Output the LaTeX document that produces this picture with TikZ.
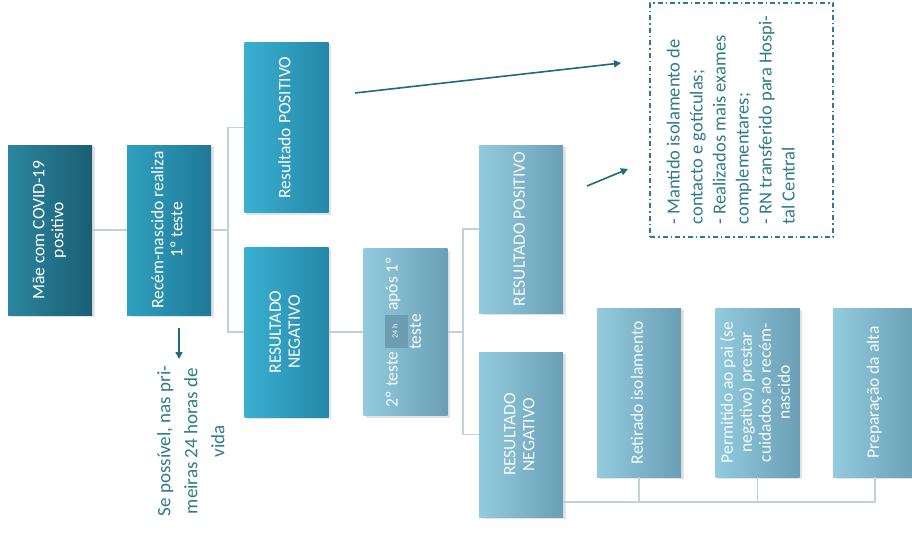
\documentclass[tikz,border=0pt]{standalone}
\usepackage{graphicx}
\usepackage{fontspec}
\setmainfont{Carlito}
\usetikzlibrary{arrows.meta, shadows}

\definecolor{maeL}{HTML}{2A86A0}
\definecolor{maeR}{HTML}{1B5E73}
\definecolor{rnL}{HTML}{2FA0BF}
\definecolor{rnR}{HTML}{1F7896}
\definecolor{resL}{HTML}{3AB0D1}
\definecolor{resR}{HTML}{2587A9}
\definecolor{paleL}{HTML}{93CBDE}
\definecolor{paleR}{HTML}{6A9FB5}
\definecolor{hourcol}{HTML}{6E9DB1}
\definecolor{linecol}{HTML}{BFD2D9}
\definecolor{arrcol}{HTML}{1E6B7C}
\definecolor{notecol}{HTML}{2F7B8C}

% rotated text, read from bottom to top
\newcommand{\vlines}[1]{\rotatebox{90}{\begin{tabular}{@{}c@{}}#1\end{tabular}}}
\newcommand{\vleft}[1]{\rotatebox{90}{\begin{tabular}{@{}l@{}}#1\end{tabular}}}

\begin{document}
\begin{tikzpicture}[x=1pt, y=-1pt,
    flowbox/.style={minimum width=84pt, minimum height=170pt, inner sep=0pt,
      text=white, font=\fontsize{17.5}{19}\selectfont,
      drop shadow={shadow xshift=2.5pt, shadow yshift=-2pt, opacity=0.22}},
    darkbox/.style={flowbox, left color=maeL, right color=maeR},
    rnbox/.style={flowbox, left color=rnL, right color=rnR},
    resbox/.style={flowbox, left color=resL, right color=resR},
    palebox/.style={flowbox, left color=paleL, right color=paleR, text=white!92!paleL},
    conn/.style={draw=linecol, line width=1.2pt},
    arr/.style={draw=arrcol, line width=1.6pt, -{Triangle[length=7pt, width=7pt]}},
  ]
    \useasboundingbox (0,0) rectangle (912,535);
    \fill[white] (0,0) rectangle (912,535);

    % First column: mother and first test
    \node[darkbox] (mae) at (50,230) {\vlines{Mãe com COVID-19\\ positivo}};
    \node[rnbox] (rn) at (169,230) {\vlines{Recém-nascido realiza\\ 1º teste}};

    % Results of the first test
    \node[resbox] (pos1) at (286.5,127.5) {\vlines{Resultado POSITIVO}};
    \node[resbox] (neg1) at (286.5,332) {\vlines{RESULTADO\\ NEGATIVO}};

    % Second test
    \node[palebox, minimum height=167pt] (teste2) at (405.5,332)
      {\vlines{2º teste {\fboxsep=0pt\colorbox{hourcol}{\makebox[33pt]{\rule[-10pt]{0pt}{23pt}\fontsize{8}{9}\selectfont 24 h}}} após 1º\\ teste}};
    \node[palebox, minimum height=168pt] (pos2) at (521,229) {\vlines{RESULTADO POSITIVO}};
    \node[palebox, minimum height=165pt] (neg2) at (521,434.5) {\vlines{RESULTADO\\ NEGATIVO}};

    % Steps after a negative second test
    \node[palebox, minimum height=169pt] (ret) at (639,392.5) {\vlines{Retirado isolamento}};
    \node[palebox, minimum height=169pt] (perm) at (757.5,392.5)
      {\vlines{Permitido ao pai (se\\ negativo) prestar\\ cuidados ao recém-\\ nascido}};
    \node[palebox, minimum height=169pt] (prep) at (875,392.5) {\vlines{Preparação da alta}};

    % Notes
    \node[text=notecol, font=\fontsize{19}{27}\selectfont] (hint) at (192,441)
      {\vlines{Se possível, nas pri-\\ meiras 24 horas de\\ vida}};
    \node[draw=notecol, line width=1.1pt, dash pattern=on 5pt off 3pt on 1.5pt off 3pt,
      minimum width=183pt, minimum height=234pt, inner sep=0pt, text=notecol,
      font=\fontsize{18.5}{23}\selectfont] (medidas) at (741.5,120)
      {\vleft{- Mantido isolamento de\\ contacto e gotículas;\\ - Realizados mais exames\\ complementares;\\ - RN transferido para Hospi-\\ tal Central}\hspace*{18pt}};

    % Connectors
    \coordinate (split1) at (228,230);
    \coordinate (split2) at (463,332);
    \coordinate (bus) at (0,502);
    \draw[conn] (mae.east) -- (rn.west);
    \draw[conn] (rn.east) -- (split1) |- (pos1.west);
    \draw[conn] (split1) |- (neg1.west);
    \draw[conn] (neg1.east) -- (teste2.west);
    \draw[conn] (teste2.east) -- (split2) |- (pos2.west);
    \draw[conn] (split2) |- (neg2.west);
    \draw[conn] (neg2.east |- bus) -| (prep.south);
    \draw[conn] (ret.south) -- (ret.south |- bus);
    \draw[conn] (perm.south) -- (perm.south |- bus);

    % Arrows
    \coordinate (a1s) at (355,93);
    \coordinate (a1e) at (621,63);
    \coordinate (a2s) at (587,186);
    \coordinate (a2e) at (628,169);
    \coordinate (a3s) at (179,328);
    \coordinate (a3e) at (179,359);
    \draw[arr] (a1s) -- (a1e);
    \draw[arr] (a2s) -- (a2e);
    \draw[arr] (a3s) -- (a3e);
\end{tikzpicture}
\end{document}
